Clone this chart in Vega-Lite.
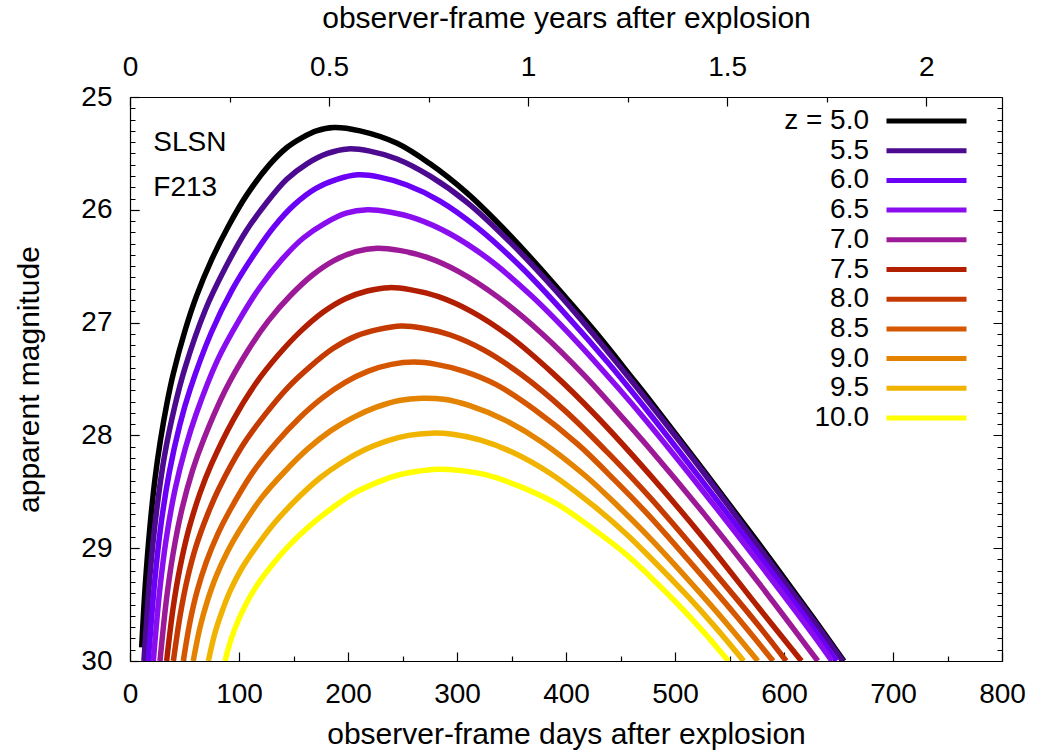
{
  "$schema": "https://vega.github.io/schema/vega-lite/v6.json",
  "width": 872,
  "height": 564,
  "autosize": {"type": "none"},
  "padding": {"left": 130, "top": 97, "right": 54, "bottom": 92},
  "background": "white",
  "config": {
    "view": {"stroke": null},
    "font": "Liberation Sans",
    "axis": {
      "grid": false,
      "domainColor": "black",
      "domainWidth": 1.2,
      "tickColor": "black",
      "tickWidth": 1.2,
      "tickSize": -9,
      "labelFont": "Liberation Sans",
      "labelFontSize": 28,
      "labelColor": "black",
      "labelOverlap": false,
      "labelFlush": false,
      "titleFont": "Liberation Sans",
      "titleFontSize": 30,
      "titleFontWeight": "normal",
      "titleColor": "black"
    }
  },
  "datasets": {
    "curves": [
      {"z": 5, "day": 10.7, "mag": 29.88}, {"z": 5, "day": 14, "mag": 29.33}, {"z": 5, "day": 18.3, "mag": 28.81}, {"z": 5, "day": 23, "mag": 28.38}, {"z": 5, "day": 28, "mag": 28.04}, {"z": 5, "day": 34, "mag": 27.71}, {"z": 5, "day": 39.8, "mag": 27.45}, {"z": 5, "day": 50.5, "mag": 27.07}, {"z": 5, "day": 61.2, "mag": 26.76}, {"z": 5, "day": 75, "mag": 26.44}, {"z": 5, "day": 90, "mag": 26.15}, {"z": 5, "day": 107, "mag": 25.87}, {"z": 5, "day": 128, "mag": 25.60}, {"z": 5, "day": 143.7, "mag": 25.45}, {"z": 5, "day": 158, "mag": 25.36}, {"z": 5, "day": 171, "mag": 25.30}, {"z": 5, "day": 187, "mag": 25.27},
      {"z": 5, "day": 211, "mag": 25.30}, {"z": 5, "day": 245, "mag": 25.41}, {"z": 5, "day": 275, "mag": 25.59}, {"z": 5, "day": 309, "mag": 25.85}, {"z": 5, "day": 339, "mag": 26.13}, {"z": 5, "day": 370, "mag": 26.45}, {"z": 5, "day": 400, "mag": 26.78}, {"z": 5, "day": 431, "mag": 27.13}, {"z": 5, "day": 459, "mag": 27.47}, {"z": 5, "day": 477, "mag": 27.69}, {"z": 5, "day": 527, "mag": 28.32}, {"z": 5, "day": 577, "mag": 28.96}, {"z": 5, "day": 627, "mag": 29.62}, {"z": 5, "day": 655, "mag": 30.0},

      {"z": 5.5, "day": 12.8, "mag": 30.0}, {"z": 5.5, "day": 18.4, "mag": 29.23}, {"z": 5.5, "day": 24.0, "mag": 28.70}, {"z": 5.5, "day": 31.5, "mag": 28.19}, {"z": 5.5, "day": 40.9, "mag": 27.75}, {"z": 5.5, "day": 50.2, "mag": 27.41}, {"z": 5.5, "day": 69.0, "mag": 26.89}, {"z": 5.5, "day": 87.7, "mag": 26.51}, {"z": 5.5, "day": 106.4, "mag": 26.19}, {"z": 5.5, "day": 125.1, "mag": 25.94}, {"z": 5.5, "day": 143.8, "mag": 25.73}, {"z": 5.5, "day": 162.6, "mag": 25.59}, {"z": 5.5, "day": 181.3, "mag": 25.50}, {"z": 5.5, "day": 200, "mag": 25.46},
      {"z": 5.5, "day": 220, "mag": 25.48}, {"z": 5.5, "day": 245, "mag": 25.55}, {"z": 5.5, "day": 275, "mag": 25.70}, {"z": 5.5, "day": 310, "mag": 25.94}, {"z": 5.5, "day": 350, "mag": 26.30}, {"z": 5.5, "day": 390, "mag": 26.71}, {"z": 5.5, "day": 430, "mag": 27.16}, {"z": 5.5, "day": 477, "mag": 27.72}, {"z": 5.5, "day": 527, "mag": 28.34}, {"z": 5.5, "day": 577, "mag": 28.99}, {"z": 5.5, "day": 627, "mag": 29.64}, {"z": 5.5, "day": 654, "mag": 30.0},

      {"z": 6, "day": 16.8, "mag": 30.0}, {"z": 6, "day": 22.6, "mag": 29.30}, {"z": 6, "day": 28.3, "mag": 28.80}, {"z": 6, "day": 36.0, "mag": 28.33}, {"z": 6, "day": 45.6, "mag": 27.91}, {"z": 6, "day": 55.2, "mag": 27.59}, {"z": 6, "day": 74.5, "mag": 27.09}, {"z": 6, "day": 93.7, "mag": 26.71}, {"z": 6, "day": 112.9, "mag": 26.41}, {"z": 6, "day": 132.1, "mag": 26.15}, {"z": 6, "day": 151.3, "mag": 25.95}, {"z": 6, "day": 170.6, "mag": 25.81}, {"z": 6, "day": 189.8, "mag": 25.73}, {"z": 6, "day": 209, "mag": 25.69},
      {"z": 6, "day": 229, "mag": 25.71}, {"z": 6, "day": 254, "mag": 25.78}, {"z": 6, "day": 284, "mag": 25.92}, {"z": 6, "day": 319, "mag": 26.16}, {"z": 6, "day": 359, "mag": 26.51}, {"z": 6, "day": 399, "mag": 26.92}, {"z": 6, "day": 439, "mag": 27.36}, {"z": 6, "day": 477, "mag": 27.81}, {"z": 6, "day": 527, "mag": 28.43}, {"z": 6, "day": 577, "mag": 29.06}, {"z": 6, "day": 627, "mag": 29.71}, {"z": 6, "day": 648, "mag": 30.0},

      {"z": 6.5, "day": 21.4, "mag": 30.0}, {"z": 6.5, "day": 27.3, "mag": 29.37}, {"z": 6.5, "day": 33.2, "mag": 28.92}, {"z": 6.5, "day": 41.1, "mag": 28.49}, {"z": 6.5, "day": 50.9, "mag": 28.11}, {"z": 6.5, "day": 60.7, "mag": 27.81}, {"z": 6.5, "day": 80.4, "mag": 27.33}, {"z": 6.5, "day": 100.0, "mag": 26.98}, {"z": 6.5, "day": 119.7, "mag": 26.68}, {"z": 6.5, "day": 139.4, "mag": 26.44}, {"z": 6.5, "day": 159.0, "mag": 26.25}, {"z": 6.5, "day": 178.7, "mag": 26.12}, {"z": 6.5, "day": 198.3, "mag": 26.03}, {"z": 6.5, "day": 218, "mag": 26.00},
      {"z": 6.5, "day": 238, "mag": 26.02}, {"z": 6.5, "day": 263, "mag": 26.08}, {"z": 6.5, "day": 293, "mag": 26.21}, {"z": 6.5, "day": 328, "mag": 26.43}, {"z": 6.5, "day": 368, "mag": 26.76}, {"z": 6.5, "day": 408, "mag": 27.15}, {"z": 6.5, "day": 448, "mag": 27.58}, {"z": 6.5, "day": 477, "mag": 27.91}, {"z": 6.5, "day": 527, "mag": 28.51}, {"z": 6.5, "day": 577, "mag": 29.13}, {"z": 6.5, "day": 627, "mag": 29.77}, {"z": 6.5, "day": 644, "mag": 30.0},

      {"z": 7, "day": 27.5, "mag": 30.0}, {"z": 7, "day": 33.5, "mag": 29.45}, {"z": 7, "day": 39.5, "mag": 29.05}, {"z": 7, "day": 47.5, "mag": 28.66}, {"z": 7, "day": 57.4, "mag": 28.31}, {"z": 7, "day": 67.4, "mag": 28.04}, {"z": 7, "day": 87.4, "mag": 27.60}, {"z": 7, "day": 107.3, "mag": 27.26}, {"z": 7, "day": 127.3, "mag": 26.98}, {"z": 7, "day": 147.2, "mag": 26.76}, {"z": 7, "day": 167.2, "mag": 26.58}, {"z": 7, "day": 187.1, "mag": 26.45}, {"z": 7, "day": 207.1, "mag": 26.37}, {"z": 7, "day": 227, "mag": 26.34},
      {"z": 7, "day": 247, "mag": 26.36}, {"z": 7, "day": 272, "mag": 26.42}, {"z": 7, "day": 302, "mag": 26.55}, {"z": 7, "day": 337, "mag": 26.77}, {"z": 7, "day": 377, "mag": 27.09}, {"z": 7, "day": 417, "mag": 27.47}, {"z": 7, "day": 447, "mag": 27.79}, {"z": 7, "day": 477, "mag": 28.12}, {"z": 7, "day": 527, "mag": 28.70}, {"z": 7, "day": 577, "mag": 29.31}, {"z": 7, "day": 631, "mag": 30.0},

      {"z": 7.5, "day": 33.6, "mag": 30.0}, {"z": 7.5, "day": 39.7, "mag": 29.52}, {"z": 7.5, "day": 45.9, "mag": 29.17}, {"z": 7.5, "day": 54.0, "mag": 28.83}, {"z": 7.5, "day": 64.3, "mag": 28.51}, {"z": 7.5, "day": 74.5, "mag": 28.26}, {"z": 7.5, "day": 94.9, "mag": 27.86}, {"z": 7.5, "day": 115.4, "mag": 27.54}, {"z": 7.5, "day": 135.8, "mag": 27.29}, {"z": 7.5, "day": 156.2, "mag": 27.08}, {"z": 7.5, "day": 176.7, "mag": 26.91}, {"z": 7.5, "day": 197.1, "mag": 26.79}, {"z": 7.5, "day": 217.6, "mag": 26.72}, {"z": 7.5, "day": 238, "mag": 26.69},
      {"z": 7.5, "day": 258, "mag": 26.71}, {"z": 7.5, "day": 283, "mag": 26.77}, {"z": 7.5, "day": 313, "mag": 26.90}, {"z": 7.5, "day": 348, "mag": 27.12}, {"z": 7.5, "day": 388, "mag": 27.45}, {"z": 7.5, "day": 428, "mag": 27.83}, {"z": 7.5, "day": 477, "mag": 28.35}, {"z": 7.5, "day": 527, "mag": 28.92}, {"z": 7.5, "day": 577, "mag": 29.53}, {"z": 7.5, "day": 616, "mag": 30.0},

      {"z": 8, "day": 39.8, "mag": 30.0}, {"z": 8, "day": 46.1, "mag": 29.59}, {"z": 8, "day": 52.4, "mag": 29.28}, {"z": 8, "day": 60.7, "mag": 28.98}, {"z": 8, "day": 71.2, "mag": 28.70}, {"z": 8, "day": 81.6, "mag": 28.47}, {"z": 8, "day": 102.6, "mag": 28.10}, {"z": 8, "day": 123.5, "mag": 27.82}, {"z": 8, "day": 144.4, "mag": 27.58}, {"z": 8, "day": 165.3, "mag": 27.39}, {"z": 8, "day": 186.2, "mag": 27.23}, {"z": 8, "day": 207.2, "mag": 27.12}, {"z": 8, "day": 228.1, "mag": 27.06}, {"z": 8, "day": 249, "mag": 27.03},
      {"z": 8, "day": 269, "mag": 27.05}, {"z": 8, "day": 294, "mag": 27.11}, {"z": 8, "day": 324, "mag": 27.24}, {"z": 8, "day": 359, "mag": 27.46}, {"z": 8, "day": 399, "mag": 27.78}, {"z": 8, "day": 439, "mag": 28.16}, {"z": 8, "day": 477, "mag": 28.55}, {"z": 8, "day": 527, "mag": 29.11}, {"z": 8, "day": 577, "mag": 29.69}, {"z": 8, "day": 602, "mag": 30.0},

      {"z": 8.5, "day": 48.9, "mag": 30.0}, {"z": 8.5, "day": 55.3, "mag": 29.64}, {"z": 8.5, "day": 61.6, "mag": 29.38}, {"z": 8.5, "day": 70.1, "mag": 29.12}, {"z": 8.5, "day": 80.7, "mag": 28.87}, {"z": 8.5, "day": 91.3, "mag": 28.67}, {"z": 8.5, "day": 112.5, "mag": 28.33}, {"z": 8.5, "day": 133.7, "mag": 28.07}, {"z": 8.5, "day": 155.0, "mag": 27.85}, {"z": 8.5, "day": 176.2, "mag": 27.67}, {"z": 8.5, "day": 197.4, "mag": 27.53}, {"z": 8.5, "day": 218.6, "mag": 27.43}, {"z": 8.5, "day": 239.8, "mag": 27.37}, {"z": 8.5, "day": 261, "mag": 27.35},
      {"z": 8.5, "day": 281, "mag": 27.37}, {"z": 8.5, "day": 306, "mag": 27.43}, {"z": 8.5, "day": 336, "mag": 27.55}, {"z": 8.5, "day": 371, "mag": 27.77}, {"z": 8.5, "day": 411, "mag": 28.08}, {"z": 8.5, "day": 446, "mag": 28.41}, {"z": 8.5, "day": 477, "mag": 28.72}, {"z": 8.5, "day": 527, "mag": 29.27}, {"z": 8.5, "day": 557, "mag": 29.61}, {"z": 8.5, "day": 590, "mag": 30.0},

      {"z": 9, "day": 58, "mag": 30.0}, {"z": 9, "day": 64.3, "mag": 29.70}, {"z": 9, "day": 70.6, "mag": 29.48}, {"z": 9, "day": 79, "mag": 29.25}, {"z": 9, "day": 89.5, "mag": 29.03}, {"z": 9, "day": 100, "mag": 28.85}, {"z": 9, "day": 121, "mag": 28.55}, {"z": 9, "day": 142, "mag": 28.32}, {"z": 9, "day": 163, "mag": 28.12}, {"z": 9, "day": 184, "mag": 27.96}, {"z": 9, "day": 205, "mag": 27.84}, {"z": 9, "day": 226, "mag": 27.75}, {"z": 9, "day": 247, "mag": 27.69}, {"z": 9, "day": 268, "mag": 27.67},
      {"z": 9, "day": 288, "mag": 27.68}, {"z": 9, "day": 313, "mag": 27.74}, {"z": 9, "day": 343, "mag": 27.86}, {"z": 9, "day": 378, "mag": 28.06}, {"z": 9, "day": 418, "mag": 28.36}, {"z": 9, "day": 448, "mag": 28.63}, {"z": 9, "day": 477, "mag": 28.91}, {"z": 9, "day": 527, "mag": 29.44}, {"z": 9, "day": 552, "mag": 29.72}, {"z": 9, "day": 576, "mag": 30.0},

      {"z": 9.5, "day": 71.9, "mag": 30.0}, {"z": 9.5, "day": 78.0, "mag": 29.75}, {"z": 9.5, "day": 84.1, "mag": 29.57}, {"z": 9.5, "day": 92.3, "mag": 29.37}, {"z": 9.5, "day": 102.5, "mag": 29.18}, {"z": 9.5, "day": 112.7, "mag": 29.03}, {"z": 9.5, "day": 133.1, "mag": 28.77}, {"z": 9.5, "day": 153.5, "mag": 28.56}, {"z": 9.5, "day": 173.9, "mag": 28.38}, {"z": 9.5, "day": 194.4, "mag": 28.24}, {"z": 9.5, "day": 214.8, "mag": 28.13}, {"z": 9.5, "day": 235.2, "mag": 28.05}, {"z": 9.5, "day": 255.6, "mag": 28.00}, {"z": 9.5, "day": 276, "mag": 27.98},
      {"z": 9.5, "day": 296, "mag": 27.99}, {"z": 9.5, "day": 321, "mag": 28.04}, {"z": 9.5, "day": 351, "mag": 28.15}, {"z": 9.5, "day": 386, "mag": 28.34}, {"z": 9.5, "day": 426, "mag": 28.63}, {"z": 9.5, "day": 456, "mag": 28.88}, {"z": 9.5, "day": 477, "mag": 29.08}, {"z": 9.5, "day": 512, "mag": 29.43}, {"z": 9.5, "day": 537, "mag": 29.70}, {"z": 9.5, "day": 563, "mag": 30.0},

      {"z": 10, "day": 87.2, "mag": 30.0}, {"z": 10, "day": 93.0, "mag": 29.80}, {"z": 10, "day": 98.9, "mag": 29.65}, {"z": 10, "day": 106.7, "mag": 29.49}, {"z": 10, "day": 116.4, "mag": 29.33}, {"z": 10, "day": 126.2, "mag": 29.20}, {"z": 10, "day": 145.6, "mag": 28.98}, {"z": 10, "day": 165.1, "mag": 28.80}, {"z": 10, "day": 184.6, "mag": 28.65}, {"z": 10, "day": 204.1, "mag": 28.52}, {"z": 10, "day": 223.6, "mag": 28.43}, {"z": 10, "day": 243.0, "mag": 28.36}, {"z": 10, "day": 262.5, "mag": 28.32}, {"z": 10, "day": 282, "mag": 28.30},
      {"z": 10, "day": 302, "mag": 28.31}, {"z": 10, "day": 327, "mag": 28.35}, {"z": 10, "day": 357, "mag": 28.45}, {"z": 10, "day": 392, "mag": 28.61}, {"z": 10, "day": 432, "mag": 28.88}, {"z": 10, "day": 457, "mag": 29.07}, {"z": 10, "day": 477, "mag": 29.25}, {"z": 10, "day": 502, "mag": 29.49}, {"z": 10, "day": 527, "mag": 29.75}, {"z": 10, "day": 549, "mag": 30.0}
    ]
  },
  "layer": [
    {
      "layer": [
        {
          "data": {"name": "curves"},
          "mark": {"type": "line", "strokeWidth": 5.5, "interpolate": "catmull-rom", "clip": true},
          "encoding": {
            "x": {
              "field": "day",
              "type": "quantitative",
              "scale": {"domain": [0, 800], "nice": false, "zero": false},
              "axis": {
                "orient": "bottom",
                "title": "observer-frame days after explosion",
                "values": [0, 50, 100, 150, 200, 250, 300, 350, 400, 450, 500, 550, 600, 650, 700, 750, 800],
                "labelExpr": "datum.value % 100 === 0 ? format(datum.value, 'd') : ''",
                "labelOverlap": false,
                "tickDash": {"condition": {"test": "datum.value % 100 !== 0", "value": [5, 20]}, "value": []},
                "labelPadding": 28,
                "titlePadding": 11
              }
            },
            "y": {
              "field": "mag",
              "type": "quantitative",
              "scale": {"domain": [25, 30], "reverse": true, "nice": false, "zero": false},
              "axis": {
                "orient": "left",
                "title": "apparent magnitude",
                "values": [25, 26, 27, 28, 29, 30],
                "format": "d",
                "labelOverlap": false,
                "labelPadding": 27,
                "titlePadding": 36
              }
            },
            "color": {
              "field": "z",
              "type": "nominal",
              "scale": {
                "domain": [5, 5.5, 6, 6.5, 7, 7.5, 8, 8.5, 9, 9.5, 10],
                "range": ["#000000", "#4b0a8f", "#6a00f5", "#8a0df0", "#9c1a98", "#b21e00", "#c43a00", "#d55800", "#e48300", "#f0b400", "#ffff00"]
              },
              "legend": {
                "orient": "none",
                "legendX": 782.5,
                "legendY": 10,
                "title": null,
                "padding": 0,
                "symbolType": "M-4,0H4",
                "symbolSize": 400,
                "symbolStrokeWidth": 5,
                "labelFont": "Liberation Sans",
                "labelFontSize": 28,
                "labelColor": "black",
                "labelAlign": "right",
                "labelOffset": -71.5,
                "labelLimit": 0,
                "rowPadding": 1.7,
                "labelExpr": "datum.value == 5 ? 'z = 5.0' : format(datum.value, '.1f')"
              }
            }
          }
        },
        {
          "data": {"values": [{}]},
          "mark": {"type": "text", "text": "SLSN", "align": "left", "baseline": "alphabetic", "font": "Liberation Sans", "fontSize": 28, "color": "black"},
          "encoding": {"x": {"datum": 21.4}, "y": {"datum": 25.476}}
        },
        {
          "data": {"values": [{}]},
          "mark": {"type": "text", "text": "F213", "align": "left", "baseline": "alphabetic", "font": "Liberation Sans", "fontSize": 28, "color": "black"},
          "encoding": {"x": {"datum": 21.4}, "y": {"datum": 25.878}}
        }
      ]
    },
    {
      "data": {"values": [{}]},
      "mark": {"type": "point", "opacity": 0},
      "encoding": {
        "x": {
          "datum": 0,
          "type": "quantitative",
          "scale": {"domain": [0, 2.1903], "nice": false, "zero": false},
          "axis": {
            "orient": "top",
            "title": "observer-frame years after explosion",
            "values": [0, 0.25, 0.5, 0.75, 1, 1.25, 1.5, 1.75, 2],
            "labelExpr": "datum.value % 0.5 === 0 ? format(datum.value, '~g') : ''",
            "labelOverlap": false,
            "tickDash": {"condition": {"test": "datum.value % 0.5 !== 0", "value": [5, 20]}, "value": []},
            "labelPadding": 25,
            "titlePadding": 20
          }
        },
        "y": {
          "datum": 25,
          "type": "quantitative",
          "scale": {"domain": [25, 30], "reverse": true, "nice": false, "zero": false},
          "axis": {
            "orient": "right",
            "title": null,
            "labels": false,
            "ticks": false,
            "grid": true,
            "gridColor": "black",
            "gridWidth": 1.2,
            "gridDash": {"condition": {"test": "abs(datum.value - round(datum.value)) > 0.01", "value": [5, 862, 5]}, "value": [9, 854, 9]},
            "values": [25, 25.1, 25.2, 25.3, 25.4, 25.5, 25.6, 25.7, 25.8, 25.9, 26, 26.1, 26.2, 26.3, 26.4, 26.5, 26.6, 26.7, 26.8, 26.9, 27, 27.1, 27.2, 27.3, 27.4, 27.5, 27.6, 27.7, 27.8, 27.9, 28, 28.1, 28.2, 28.3, 28.4, 28.5, 28.6, 28.7, 28.8, 28.9, 29, 29.1, 29.2, 29.3, 29.4, 29.5, 29.6, 29.7, 29.8, 29.9, 30]
          }
        }
      }
    }
  ],
  "resolve": {"scale": {"x": "independent", "y": "independent"}}
}
